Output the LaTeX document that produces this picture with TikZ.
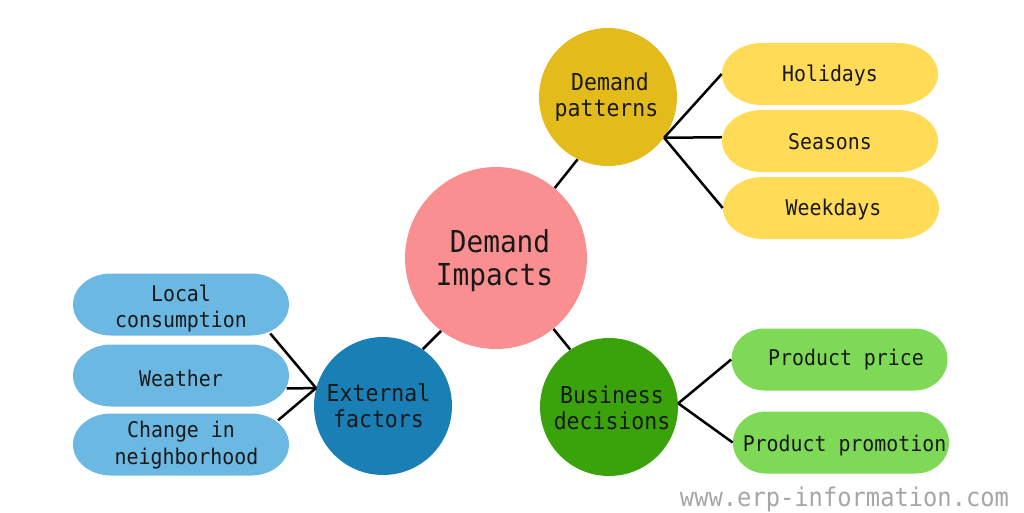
\documentclass[tikz,border=0pt]{standalone}
\usepackage{fontspec}
\newfontfamily\plainmono[FakeStretch=0.92]{DejaVu Sans Mono}
\usetikzlibrary{shapes.misc}
\definecolor{pinkc}{HTML}{FA8F92}
\definecolor{goldc}{HTML}{E3BB1B}
\definecolor{yellowc}{HTML}{FFDB58}
\definecolor{bluec}{HTML}{1A7FB5}
\definecolor{skyc}{HTML}{6BB8E3}
\definecolor{greenc}{HTML}{3AA30C}
\definecolor{limec}{HTML}{7ED957}
\tikzset{
    bigtag/.style={align=center,inner sep=0pt,text=black!90,font=\plainmono\fontsize{17.2}{18.7}\selectfont},
    hubtag/.style={align=center,inner sep=0pt,text=black!90,font=\plainmono\fontsize{13.3}{15}\selectfont},
    pilltag/.style={align=center,inner sep=0pt,text=black!90,font=\plainmono\fontsize{12.3}{15.3}\selectfont},
    hub/.style={circle,inner sep=0pt,minimum size=2.76cm},
    pill/.style={rounded rectangle,inner sep=0pt,minimum width=4.32cm,minimum height=1.25cm},
    link/.style={draw=black,line width=0.05cm}
}
\begin{document}
\begin{tikzpicture}[x=0.02cm,y=-0.02cm]
                \useasboundingbox (0,0) rectangle (1024,512);
                \foreach \cx/\cy/\rx/\col in {830/74/40/yellowc,830/141/40/yellowc,831/208/40/yellowc,
                    181/304.5/38/skyc,181/375.5/38/skyc,181/444.5/38/skyc,
                    839.5/359.5/33/limec,841/442.5/33/limec}
                    \fill[\col] ({\cx-108+\rx},\cy-31) -- ({\cx+108-\rx},\cy-31)
                        arc[start angle=-90,end angle=90,x radius=\rx,y radius=31]
                        -- ({\cx-108+\rx},\cy+31)
                        arc[start angle=90,end angle=270,x radius=\rx,y radius=31] -- cycle;
                \node[circle,fill=pinkc,inner sep=0pt,minimum size=3.64cm,
                    label={[bigtag,xshift=-0.03cm,yshift=-0.06cm]center:\hspace*{0.22cm}Demand\\Impacts}] (impacts) at (496,258) {};
                \node[hub,fill=goldc,label={[hubtag,xshift=-0.03cm]center:\hspace*{0.14cm}Demand\\patterns}] (patterns) at (608,97) {};
                \node[hub,fill=bluec,label={[hubtag,xshift=-0.09cm]center:External\\factors}] (external) at (383,406) {};
                \node[hub,fill=greenc,label={[hubtag,xshift=0.06cm,yshift=-0.01cm]center:Business\\decisions}] (business) at (609,407) {};
                \node[pill,label={[pilltag,yshift=-0.03cm]center:Holidays}] (holidays) at (830,74) {};
                \node[pill,label={[pilltag,yshift=-0.02cm]center:Seasons}] (seasons) at (830,141) {};
                \node[pill,label={[pilltag,xshift=0.05cm,yshift=-0.03cm]center:Weekdays}] (weekdays) at (831,208) {};
                \node[pill,label={[pilltag,yshift=-0.08cm]center:Local\\consumption}] (local) at (181,304.5) {};
                \node[pill,label={[pilltag,yshift=-0.06cm]center:Weather}] (weather) at (181,375.5) {};
                \node[pill,label={[pilltag,yshift=-0.02cm]center:Change in\\\hspace*{0.22cm}neighborhood}] (change) at (181,444.5) {};
                \node[pill,label={[pilltag,xshift=0.13cm,yshift=-0.01cm]center:Product price}] (price) at (839.5,359.5) {};
                \node[pill,label={[pilltag,xshift=0.07cm,yshift=-0.06cm]center:Product promotion}] (promotion) at (841,442.5) {};
                \node[text=black!35,font=\plainmono\fontsize{14.7}{16}\selectfont,inner sep=0pt] (site) at (844.5,499) {www.erp-information.com};
                \draw[link] (impacts.50)--(patterns.244);
                \draw[link] (impacts.233)--(external.55);
                \draw[link] (impacts.-51)--(business.124);
                \draw[link] (patterns.-36)--(holidays.west);
                \draw[link] (patterns.-36)--(seasons.178);
                \draw[link] (patterns.-36)--(weekdays.west);
                \draw[link] (external.165)--(local.-18);
                \draw[link] (external.165)--(weather.-7);
                \draw[link] (external.165)--(change.14);
                \draw[link] (business.3)--(price.west);
                \draw[link] (business.3)--(promotion.west);
            \end{tikzpicture}
\end{document}
